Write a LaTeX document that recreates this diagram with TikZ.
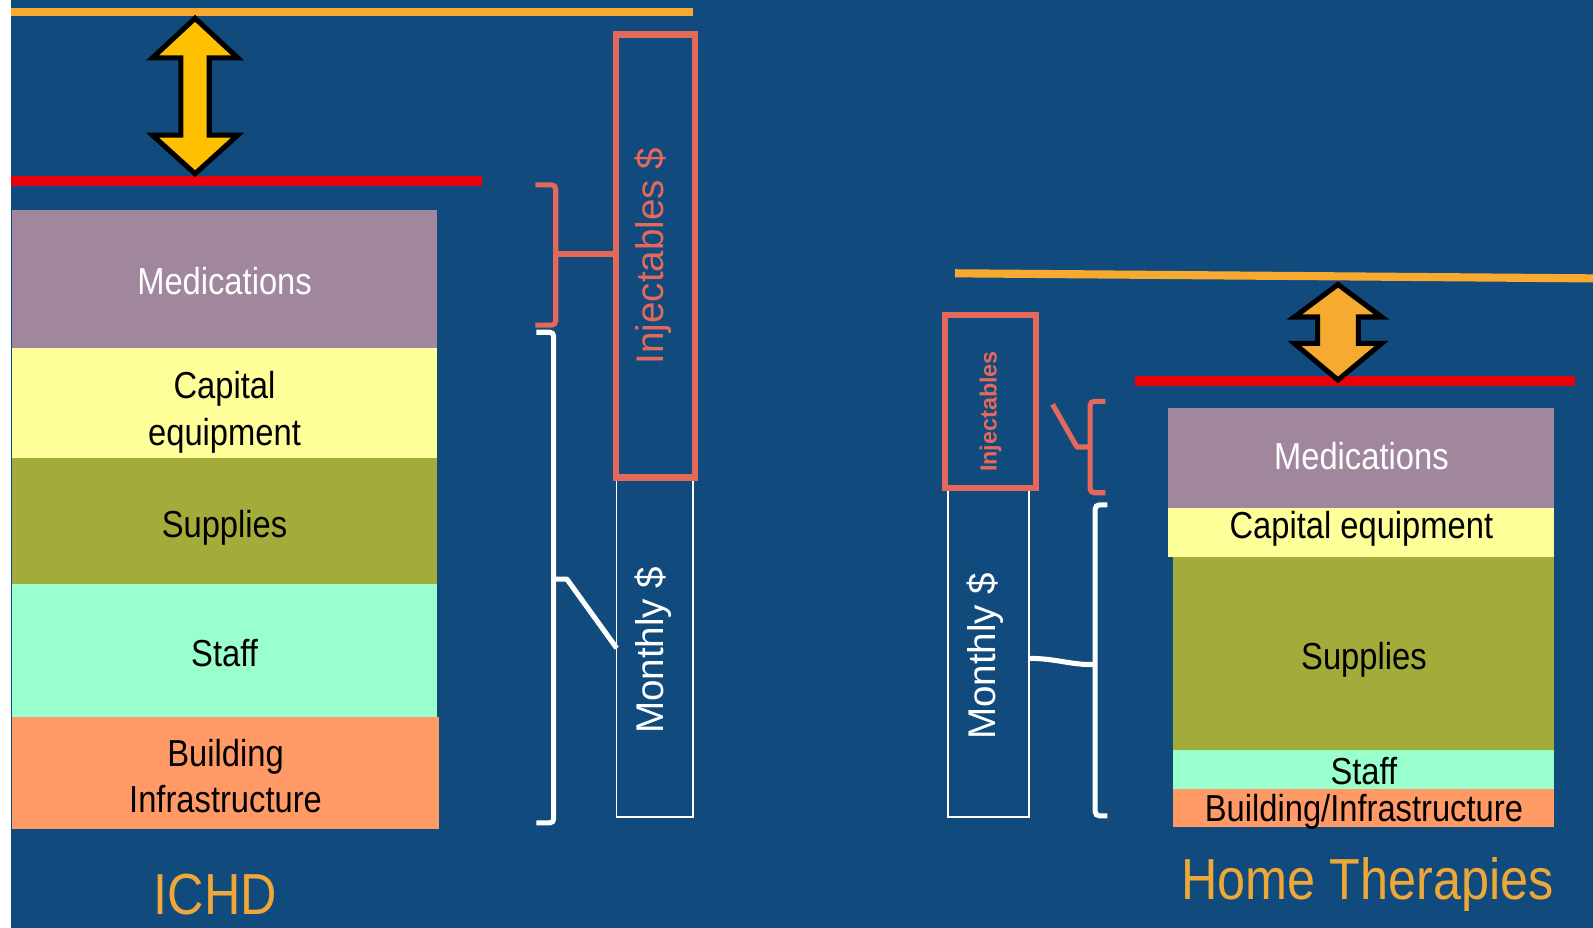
\documentclass[tikz,border=0pt]{standalone}
\usepackage{fontspec}
\setmainfont{Liberation Sans}
\newfontfamily\nfont{Liberation Sans}[FakeStretch=0.87]
\definecolor{bg}{HTML}{114B7D}
\definecolor{mauve}{HTML}{A0879E}
\definecolor{paleyellow}{HTML}{FFFF99}
\definecolor{olive}{HTML}{A3AC3B}
\definecolor{mint}{HTML}{99FFCC}
\definecolor{peach}{HTML}{FF9966}
\definecolor{salmon}{HTML}{E5695A}
\definecolor{oline}{HTML}{F7A930}
\definecolor{rline}{HTML}{E8000A}
\definecolor{goldA}{HTML}{FFC000}
\definecolor{goldB}{HTML}{F6AA30}
\definecolor{lbl}{HTML}{EFA737}
\begin{document}
\begin{tikzpicture}[x=1pt,y=-1pt,
  band/.style={draw=none,inner sep=0pt,outer sep=0pt},
  lab/.style={inner sep=0pt,align=center,text=black,
    font=\nfont\fontsize{37}{46}\selectfont},
  title/.style={text=lbl,inner sep=0pt,font=\nfont\fontsize{57}{60}\selectfont},
  injbox/.style={draw=salmon,line width=6pt,inner sep=0pt,outer sep=0pt},
  monbox/.style={draw=white,line width=1.5pt,inner sep=0pt,outer sep=0pt},
  vtext/.style={rotate=90,inner sep=0pt,font=\fontsize{38}{40}\selectfont},
  brS/.style={draw=salmon,line width=5pt,rounded corners=4pt},
  brW/.style={draw=white,line width=5pt,rounded corners=4pt},
  dbl/.style={draw=black,line width=5pt,line join=miter,miter limit=10},
]
\useasboundingbox (0,0) rectangle (1568,913);
\fill[bg] (0,0) rectangle (1568,913);
\fill[white] (0,0) rectangle (11,913);

% ---------- ICHD stack ----------
\node[band,fill=mauve,minimum width=418pt,minimum height=136pt] (lmed) at (221,275) {};
\node[band,fill=paleyellow,minimum width=418pt,minimum height=108pt] (lcap) at (221,397) {};
\node[band,fill=olive,minimum width=418pt,minimum height=124pt] (lsup) at (221,513) {};
\node[band,fill=mint,minimum width=418pt,minimum height=131pt] (lstaff) at (221,640.5) {};
\node[band,fill=peach,minimum width=420pt,minimum height=110pt] (lbld) at (222,761) {};
\node[lab,text=white] (lmedt) at (221,277) {Medications};
\node[lab] (lcapt) at (221,406) {Capital\\equipment};
\node[lab] (lsupt) at (221,519) {Supplies};
\node[lab] (lstafft) at (221,643) {Staff};
\node[lab] (lbldt) at (222,764) {Building\\Infrastructure};
\node[title] (ichd) at (212,881) {ICHD};

% ---------- Home stack ----------
\node[band,fill=mauve,minimum width=380pt,minimum height=98pt] (rmed) at (1340,451) {};
\node[band,fill=paleyellow,minimum width=380pt,minimum height=48pt] (rcap) at (1340,524) {};
\node[band,fill=olive,minimum width=375pt,minimum height=190pt] (rsup) at (1342.5,643) {};
\node[band,fill=mint,minimum width=375pt,minimum height=39pt] (rstaff) at (1342.5,757.5) {};
\node[band,fill=peach,minimum width=375pt,minimum height=37pt] (rbld) at (1342.5,795.5) {};
\node[lab,text=white] (rmedt) at (1340,449) {Medications};
\node[lab] (rcapt) at (1340,520) {Capital equipment};
\node[lab] (rsupt) at (1342.5,649) {Supplies};
\node[lab] (rstafft) at (1342.5,759) {Staff};
\node[lab] (rbldt) at (1342.5,799) {Building/Infrastructure};
\node[title] (home) at (1346,871) {Home Therapies};

% ---------- level lines ----------
\draw[oline,line width=8pt] (11,12) -- (682,12);
\draw[rline,line width=10pt] (11,178) -- (474,178);
\draw[oline,line width=8pt] (940,269) -- (1568,274);
\draw[rline,line width=10pt] (1117,375) -- (1550,375);

% ---------- double arrows ----------
\draw[dbl,fill=goldA] (192,18) -- (234,57) -- (206,57) -- (206,133) -- (234,133) -- (192,171)
  -- (150,133) -- (178,133) -- (178,57) -- (150,57) -- cycle;
\draw[dbl,fill=goldB] (1317,280) -- (1360,312) -- (1337,312) -- (1337,338) -- (1360,338) -- (1317,374)
  -- (1274,338) -- (1297,338) -- (1297,312) -- (1274,312) -- cycle;

% ---------- ICHD columns ----------
\node[monbox,minimum width=75pt,minimum height=334pt] (monL) at (644.5,637) {};
\node[injbox,minimum width=78pt,minimum height=436pt] (injL) at (645,252) {};
\node[vtext,text=salmon] (injLt) at (643,252) {Injectables \$};
\node[vtext,text=white] (monLt) at (643,640) {Monthly \$};

\coordinate (bsL) at (547,250);
\draw[brS] (527,182) -- (547,182) -- (547,320) -- (527,320);
\draw[salmon,line width=5pt] (bsL) -- (bsL -| injL.west);
\coordinate (bwL) at (545,570);
\coordinate (mwL) at (607,638);
\draw[brW] (528,327) -- (545,327) -- (545,810) -- (528,810);
\draw[white,line width=5pt,line join=round] (bwL) -- (558,570) -- (mwL);

% ---------- Home columns ----------
\node[monbox,minimum width=80pt,minimum height=324pt] (monR) at (973,642) {};
\node[injbox,minimum width=90pt,minimum height=170pt] (injR) at (975,395) {};
\node[vtext,text=salmon,font=\bfseries\fontsize{23}{26}\selectfont] (injRt) at (975,405) {Injectables};
\node[vtext,text=white] (monRt) at (970,646) {Monthly \$};

\draw[brS] (1088,395) -- (1073,395) -- (1073,485) -- (1088,485);
\coordinate (bsR) at (1073,440);
\draw[salmon,line width=5pt,line join=round] (1036,398) -- (1060,440) -- (bsR);
\draw[brW] (1090,497) -- (1078,497) -- (1078,803) -- (1090,803);
\coordinate (bwR) at (1078,654);
\draw[white,line width=5pt] (monR.east |- 0,648) .. controls (1040,648) and (1055,655) .. (bwR);
\end{tikzpicture}
\end{document}
